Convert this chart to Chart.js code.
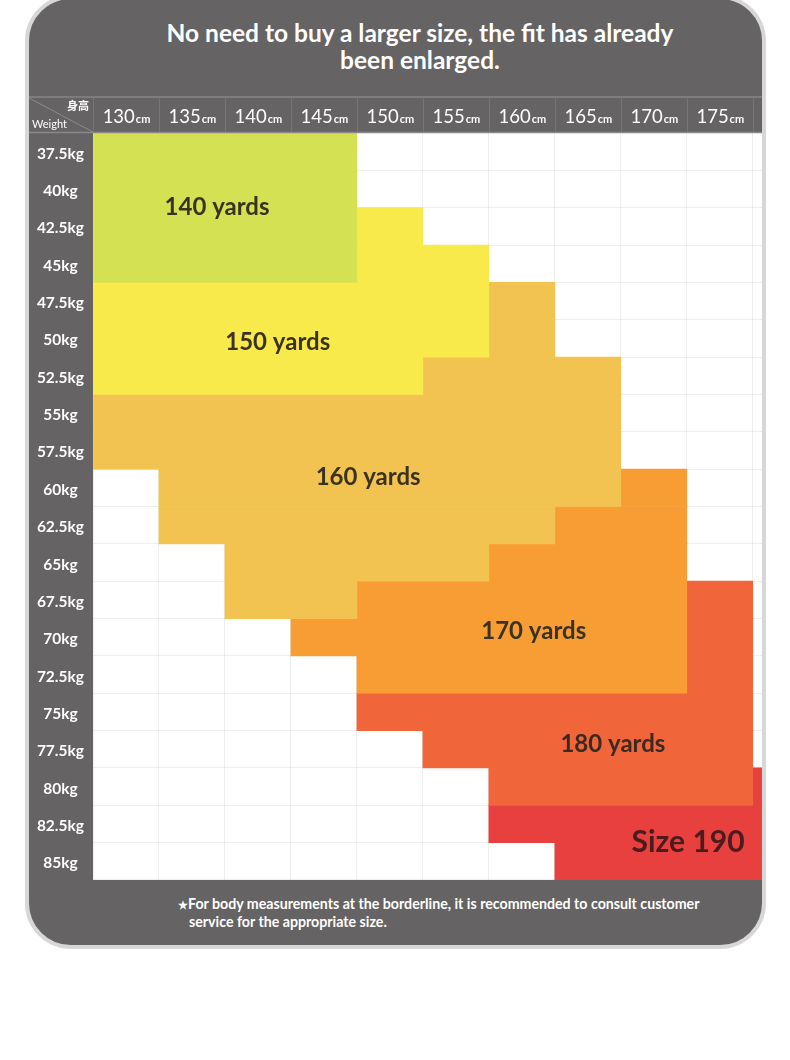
<!DOCTYPE html>
<html>
<head>
<meta charset="utf-8">
<script src="https://cdn.jsdelivr.net/npm/chart.js@4"></script>
<style>
  html, body { margin: 0; padding: 0; background: #fff; }
  body { width: 790px; height: 1060px; position: relative; overflow: hidden; font-family: 'Lato', sans-serif; }
  #panel {
    position: absolute; left: 25px; top: -5px; width: 741px; height: 954px;
    box-sizing: border-box; border: 4px solid #d7d7d7; border-radius: 46px;
    background: #656363;
  }
  #title {
    position: absolute; left: 130px; top: 19px; width: 580px;
    text-align: center; color: #fff; font-weight: bold; font-size: 24.5px; line-height: 27px;
  }
  #note {
    position: absolute; left: 178px; top: 895px; width: 590px;
    color: #fff; font-weight: bold; font-size: 14.2px; line-height: 17px;
    padding-left: 11px; text-indent: -11px; white-space: nowrap;
  }
  #note .star { font-size: 11px; }
  #chart { position: absolute; left: 29px; top: 96px; }
</style>
</head>
<body>
<div id="panel"></div>
<div id="title">No need to buy a larger size, the fit has already<br>been enlarged.</div>
<canvas id="chart" width="733" height="784"></canvas>
<div id="note"><span class="star">★</span>For body measurements at the borderline, it is recommended to consult customer<br>service for the appropriate size.</div>

<script>
// rows (weight) and columns (height)
const weights = ['37.5kg', '40kg', '42.5kg', '45kg', '47.5kg', '50kg', '52.5kg', '55kg', '57.5kg', '60kg',
                 '62.5kg', '65kg', '67.5kg', '70kg', '72.5kg', '75kg', '77.5kg', '80kg', '82.5kg', '85kg'];
const heights = ['130', '135', '140', '145', '150', '155', '160', '165', '170', '175', '180'];

// each size: [first column, last column + 1] per weight row, null = not this size
const size140 = [[0, 4], [0, 4], [0, 4], [0, 4], null, null, null, null, null, null,
                 null, null, null, null, null, null, null, null, null, null];
const size150 = [null, null, [4, 5], [4, 6], [0, 6], [0, 6], [0, 5], null, null, null,
                 null, null, null, null, null, null, null, null, null, null];
const size160 = [null, null, null, null, [6, 7], [6, 7], [5, 8], [0, 8], [0, 8], [1, 8],
                 [1, 7], [2, 6], [2, 4], null, null, null, null, null, null, null];
const size170 = [null, null, null, null, null, null, null, null, null, [8, 9],
                 [7, 9], [6, 9], [4, 9], [3, 9], [4, 9], null, null, null, null, null];
const size180 = [null, null, null, null, null, null, null, null, null, null,
                 null, null, [9, 10], [9, 10], [9, 10], [4, 10], [5, 10], [6, 10], null, null];
const size190 = [null, null, null, null, null, null, null, null, null, null,
                 null, null, null, null, null, null, null, [10, 11], [6, 11], [7, 11]];

const sizeNames = ['140 yards', '150 yards', '160 yards', '170 yards', '180 yards', 'Size 190'];
const sizeColors = ['#d4e152', '#f9ea4b', '#f2c350', '#f89d34', '#f0653a', '#e8403e'];

// where each size name is written, in column / row units
const labelSpots = [
  { text: '140 yards', x: 1.88, y: 1.48, size: 24, color: '#3a3322' },
  { text: '150 yards', x: 2.80, y: 5.10, size: 24, color: '#3a3322' },
  { text: '160 yards', x: 4.17, y: 8.71, size: 24, color: '#3a3322' },
  { text: '170 yards', x: 6.68, y: 12.83, size: 24, color: '#3a3322' },
  { text: '180 yards', x: 7.88, y: 15.86, size: 24, color: '#3a2a22' },
  { text: 'Size 190', x: 9.02, y: 18.48, size: 30, color: '#4a1c1c' }
];

Chart.defaults.font.family = 'Lato';

const headerPlugin = {
  id: 'header',
  beforeDraw(chart) {
    const a = chart.chartArea;
    chart.ctx.save();
    chart.ctx.fillStyle = '#ffffff';
    chart.ctx.fillRect(a.left, a.top, a.right - a.left, a.bottom - a.top);
    chart.ctx.restore();
  },
  afterDraw(chart) {
    const ctx = chart.ctx;
    const area = chart.chartArea;
    const xs = chart.scales.x;
    const ys = chart.scales.y;
    ctx.save();

    // header strip lines
    ctx.strokeStyle = '#7e7c7c';
    ctx.lineWidth = 2;
    ctx.beginPath();
    ctx.moveTo(0, 1); ctx.lineTo(area.right, 1);
    ctx.stroke();
    ctx.strokeStyle = '#8a8888';
    ctx.lineWidth = 1.5;
    ctx.beginPath();
    ctx.moveTo(0, area.top - 0.5); ctx.lineTo(area.right, area.top - 0.5);
    ctx.stroke();

    ctx.strokeStyle = '#777575';
    ctx.lineWidth = 1;
    for (let i = 0; i <= heights.length; i++) {
      const px = Math.round(xs.getPixelForValue(i)) + 0.5;
      if (px > area.right) break;
      ctx.beginPath();
      ctx.moveTo(px, 2); ctx.lineTo(px, area.top - 1);
      ctx.stroke();
    }

    // corner cell
    ctx.strokeStyle = '#8c8a8a';
    ctx.beginPath();
    ctx.moveTo(0, 2); ctx.lineTo(area.left, area.top - 1);
    ctx.stroke();
    ctx.fillStyle = '#fff';
    ctx.font = 'bold 11px "Noto Sans CJK SC"';
    ctx.textAlign = 'right';
    ctx.textBaseline = 'alphabetic';
    ctx.fillText('身高', area.left - 4, 14);
    ctx.font = '11px Lato';
    ctx.textAlign = 'left';
    ctx.fillText('Weight', 3, 32);

    // column labels: number + small unit
    heights.forEach((h, i) => {
      const cx = xs.getPixelForValue(i + 0.5);
      if (cx > area.right) return;
      ctx.font = '18.5px Lato';
      const w1 = ctx.measureText(h).width;
      ctx.font = 'bold 11px Lato';
      const w2 = ctx.measureText('cm').width;
      const left = cx - (w1 + w2) / 2;
      ctx.textAlign = 'left';
      ctx.font = '18.5px Lato';
      ctx.fillText(h, left, 27);
      ctx.font = 'bold 11px Lato';
      ctx.fillText('cm', left + w1 + 1, 27);
    });

    // size names inside the blocks
    ctx.textAlign = 'center';
    ctx.textBaseline = 'middle';
    labelSpots.forEach(s => {
      ctx.font = 'bold ' + s.size + 'px Lato';
      ctx.fillStyle = s.color;
      ctx.fillText(s.text, xs.getPixelForValue(s.x), ys.getPixelForValue(s.y));
    });
    ctx.restore();
  }
};

const sizeData = [size140, size150, size160, size170, size180, size190];

const canvas = document.getElementById('chart');
new Chart(canvas.getContext('2d'), {
  type: 'bar',
  data: {
    labels: weights,
    datasets: sizeData.map((d, i) => ({
      label: sizeNames[i],
      data: d,
      backgroundColor: sizeColors[i],
      borderWidth: 0,
      grouped: false,
      barPercentage: 1,
      categoryPercentage: 1
    }))
  },
  options: {
    indexAxis: 'y',
    responsive: false,
    animation: false,
    layout: { padding: 0 },
    plugins: {
      legend: { display: false },
      tooltip: { enabled: false }
    },
    scales: {
      x: {
        type: 'linear',
        position: 'top',
        min: 0,
        max: 10.14,
        z: 1,
        afterBuildTicks(scale) {
          scale.ticks = heights.map((h, i) => ({ value: i }));
        },
        afterFit(scale) { scale.height = 37; },
        ticks: { display: false },
        border: { display: false },
        grid: { color: 'rgba(205,205,205,0.35)', drawTicks: false }
      },
      y: {
        type: 'category',
        offset: true,
        z: 1,
        afterFit(scale) {
          scale.width = 64;
          scale.paddingTop = 0;
          scale.paddingBottom = 0;
        },
        ticks: {
          color: '#ffffff',
          font: { size: 15.5, weight: 'bold' },
          crossAlign: 'center',
          padding: 9,
          labelOffset: 2
        },
        border: { display: false },
        grid: { offset: true, color: 'rgba(205,205,205,0.35)', drawTicks: false }
      }
    }
  },
  plugins: [headerPlugin]
});
</script>
</body>
</html>
